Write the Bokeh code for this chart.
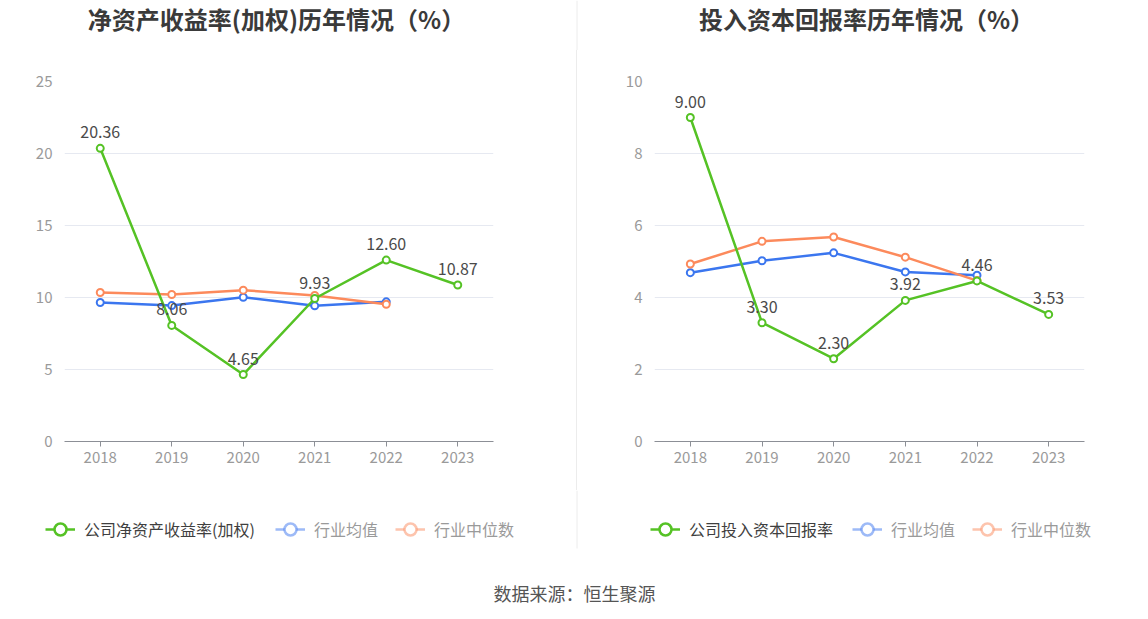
from bokeh.plotting import figure
from bokeh.models import (ColumnDataSource, Range1d, FactorRange, SingleIntervalTicker,
                          Legend, LegendItem, Div)
from bokeh.layouts import row, column
from bokeh.embed import file_html
from bokeh.resources import INLINE
from bokeh.core.properties import value

years = ["2018", "2019", "2020", "2021", "2022", "2023"]
roe_company = [20.36, 8.06, 4.65, 9.93, 12.60, 10.87]
roe_mean = [9.65, 9.44, 10.02, 9.42, 9.70]
roe_median = [10.35, 10.21, 10.51, 10.14, 9.53]
roic_company = [9.00, 3.30, 2.30, 3.92, 4.46, 3.53]
roic_mean = [4.69, 5.02, 5.24, 4.71, 4.62]
roic_median = [4.93, 5.56, 5.68, 5.12, 4.47]

titles = ["净资产收益率(加权)历年情况（%）", "投入资本回报率历年情况（%）"]
legend_names = [["公司净资产收益率(加权)", "行业均值", "行业中位数"],
                ["公司投入资本回报率", "行业均值", "行业中位数"]]
source_text = "数据来源：恒生聚源"

FONT = "Noto Sans CJK SC"
GREEN = "#55c225"
BLUE = "#3b76ef"
ORANGE = "#fc8a5c"
DIV = "#ececec"
W = 1148


def blank(width, height):
    f = figure(width=width, height=height, x_range=Range1d(0, width), y_range=Range1d(0, height),
               output_backend="svg", toolbar_location=None, x_axis_location=None,
               y_axis_location=None, min_border=0)
    f.outline_line_color = None
    f.grid.visible = False
    return f


def chart(company, mean, median, ymax, step, width, bl, br):
    p = figure(width=width, height=440, x_range=FactorRange(*years, range_padding=0),
               y_range=Range1d(0, ymax), output_backend="svg", toolbar_location=None,
               min_border_left=bl, min_border_right=br, min_border_top=31,
               min_border_bottom=49)
    p.outline_line_color = None
    p.xgrid.grid_line_color = None
    p.ygrid.grid_line_color = "#e6e9f1"
    p.ygrid.grid_line_width = 1
    p.yaxis.ticker = SingleIntervalTicker(interval=step)
    p.yaxis.axis_line_color = None
    p.yaxis.major_tick_line_color = None
    p.yaxis.minor_tick_line_color = None
    p.yaxis.major_label_standoff = 6
    p.xaxis.axis_line_color = "#8c8f96"
    p.xaxis.major_tick_line_color = "#8c8f96"
    p.xaxis.major_tick_in = 0
    p.xaxis.major_tick_out = 5
    p.xaxis.major_label_standoff = 5
    for ax in (p.xaxis, p.yaxis):
        ax.major_label_text_font = FONT
        ax.major_label_text_font_size = "15px"
        ax.major_label_text_color = "#9a9a9a"

    src_c = ColumnDataSource(dict(x=years, y=company, t=["%.2f" % v for v in company]))
    src_m = ColumnDataSource(dict(x=years[:len(mean)], y=mean))
    src_d = ColumnDataSource(dict(x=years[:len(median)], y=median))

    p.line("x", "y", source=src_m, line_color=BLUE, line_width=2.5)
    p.scatter("x", "y", source=src_m, size=7, fill_color="white", line_color=BLUE, line_width=2)
    p.line("x", "y", source=src_d, line_color=ORANGE, line_width=2.5)
    p.scatter("x", "y", source=src_d, size=7, fill_color="white", line_color=ORANGE, line_width=2)
    p.line("x", "y", source=src_c, line_color=GREEN, line_width=2.5)
    p.scatter("x", "y", source=src_c, size=7, fill_color="white", line_color=GREEN, line_width=2)
    p.text("x", "y", text="t", source=src_c, y_offset=-10, text_align="center",
           text_baseline="bottom", text_font=value(FONT), text_font_size="16px",
           text_color="#4a4a4a")
    return p


# title strip (full width)
tstrip = blank(W, 50)
tstrip.text(x=[276, 866], y=[32, 32], text=titles, text_align="center",
            text_baseline="middle", text_font=value(FONT), text_font_size="24px",
            text_font_style="bold", text_color="#3a3a3a")
tstrip.segment(x0=[576.5], y0=[0], x1=[576.5], y1=[50], line_color=DIV, line_width=1)

left = chart(roe_company, roe_mean, roe_median, 25, 5, 576, 64, 83)
right = chart(roic_company, roic_mean, roic_median, 10, 2, 571, 77, 64)
divider = Div(width=1, height=440, margin=0, styles={"background-color": DIV})

# legend strip (full width); renderers hold a dummy point outside the strip's view
lstrip = blank(W, 70)
lstrip.segment(x0=[576.5], y0=[12], x1=[576.5], y1=[70], line_color=DIV, line_width=1)
cols = [GREEN, BLUE, ORANGE]
alphas = [1.0, 0.5, 0.5]
tcols = ["#3f3f3f", "#9a9a9a", "#9a9a9a"]
leg_x = [[45, 275, 395], [650, 852, 972]]
for names, xs in zip(legend_names, leg_x):
    for nm, c, a, tc, lx in zip(names, cols, alphas, tcols, xs):
        s = ColumnDataSource(dict(x=[-1000, -999], y=[-1000, -1000]))
        r1 = lstrip.line("x", "y", source=s, line_color=c, line_width=2.5, line_alpha=a)
        r2 = lstrip.scatter("x", "y", source=s, size=13, fill_color="white", line_color=c,
                            line_width=2.5, line_alpha=a)
        leg = Legend(items=[LegendItem(label=nm, renderers=[r1, r2], index=0)],
                     location=(lx, 16), padding=0, margin=0, glyph_width=30,
                     glyph_height=30, label_height=30, label_standoff=9,
                     border_line_color=None, background_fill_alpha=0,
                     label_text_font=FONT, label_text_font_size="16px",
                     label_text_color=tc)
        lstrip.add_layout(leg, "center")

foot = blank(W, 59)
foot.text(x=[574], y=[27], text=[source_text], text_align="center",
          text_baseline="middle", text_font=value(FONT), text_font_size="18px",
          text_color="#555555")

layout = column(tstrip, row(left, divider, right, spacing=0), lstrip, foot, spacing=0)
open("out.html", "w").write(file_html(layout, INLINE))
